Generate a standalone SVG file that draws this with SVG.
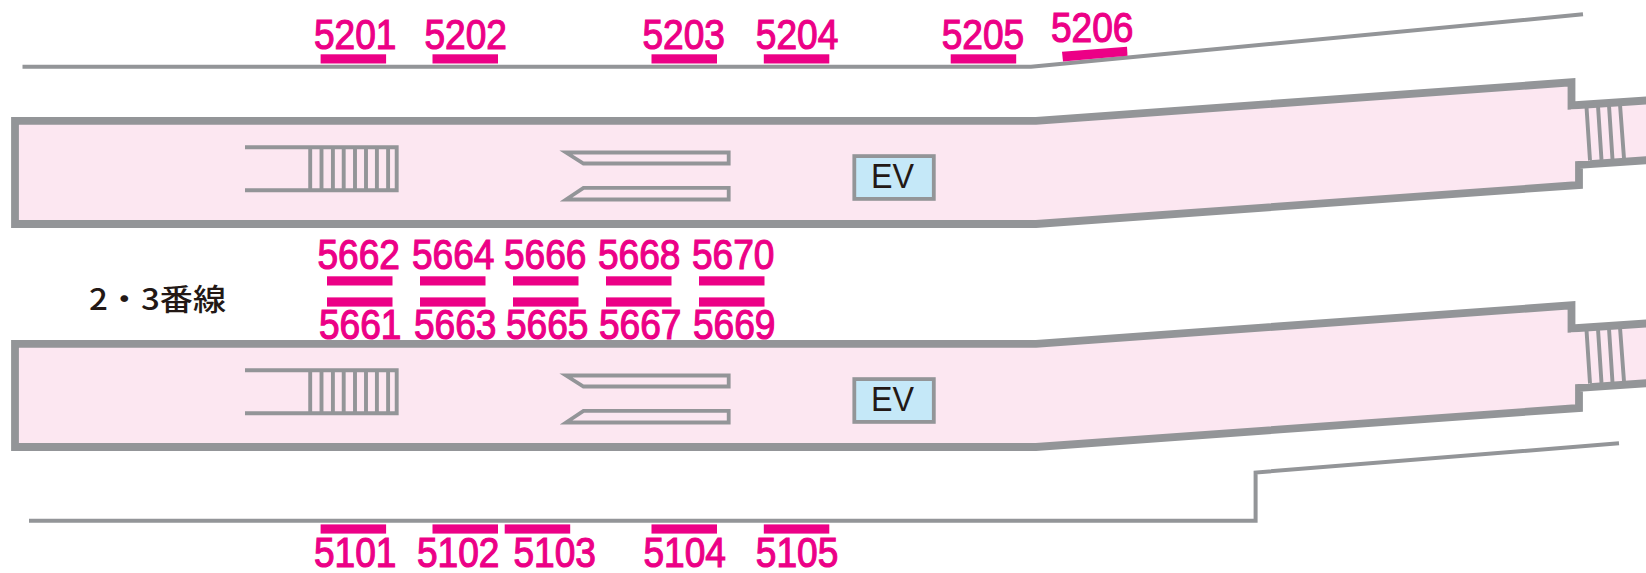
<svg xmlns="http://www.w3.org/2000/svg" width="1646" height="573" viewBox="0 0 1646 573">
<style>
.line{fill:none;stroke:#939598;stroke-width:4;stroke-linejoin:miter}
.wall{fill:#fce7f1;stroke:#939598;stroke-width:7.8;stroke-linejoin:miter}
.th{fill:none;stroke:#939598;stroke-width:3.9}
.esc{fill:#fce7f1;stroke:#939598;stroke-width:3.8;stroke-linejoin:miter}
.ev{fill:#c5e8f8;stroke:#939598;stroke-width:3.8}
.evt{font-family:"Liberation Sans",Arial,sans-serif;font-size:35px;fill:#231815}
.bar{fill:#ec0086}
.no{font-family:"Liberation Sans",Arial,sans-serif;font-size:42px;fill:#ec0086;stroke:#ec0086;stroke-width:1.2}
.cap{font-family:"Noto Sans CJK JP","Liberation Sans",sans-serif;font-size:29.5px;font-weight:500;fill:#231815}
</style>
<defs>
<g id="platform">
<path class="wall" d="M15 120.800L1036 120.800L1571.500 82.300V105.500L1650 100.200V160L1579 164.800V185L1036 224H15Z"/>
<path d="M1571 109.500H1590V161H1577Z" fill="#fce7f1"/>
<path class="th" d="M245 147.200H396.700V190.300H245M310.200 147.200V190.300M321.500 147.200V190.300M332.900 147.200V190.300M343.700 147.200V190.300M355 147.200V190.300M366 147.200V190.300M376.900 147.200V190.300M388.100 147.200V190.300"/>
<path class="th" d="M1586.500 107L1590 160.500M1598 106L1601.500 160M1609 105.500L1612.500 159.500M1620 104.500L1624 158.500"/>
<path class="esc" d="M566 152.500H728.700V163.500H583.500Z"/>
<path class="esc" d="M566 199.500H728.700V187.800H583.500Z"/>
<rect class="ev" x="854.300" y="156.100" width="79.500" height="42.800"/>
<text class="evt" x="871" y="188.300" textLength="43" lengthAdjust="spacingAndGlyphs">EV</text>
</g>
</defs>
<g id="connectors">
<path class="line" d="M22.500 66.700H1031L1583 14.300"/>
<path class="line" d="M29 520.700H1255.600V472.500L1619 443.300"/>
</g>
<g id="platform-upper"><use href="#platform"/></g>
<g id="platform-lower"><use href="#platform" transform="translate(0 223)"/></g>
<g id="label-line"><text class="cap" x="89" y="310" textLength="137" lengthAdjust="spacingAndGlyphs">2・3番線</text></g>
<g id="n5201"><rect class="bar" x="320.600" y="54.300" width="65.500" height="9.200"/><text class="no" x="314" y="49" textLength="82.500" lengthAdjust="spacingAndGlyphs">5201</text></g>
<g id="n5202"><rect class="bar" x="432.500" y="54.300" width="65.500" height="9.200"/><text class="no" x="424.500" y="49" textLength="82.500" lengthAdjust="spacingAndGlyphs">5202</text></g>
<g id="n5203"><rect class="bar" x="651.500" y="54.300" width="65.500" height="9.200"/><text class="no" x="642.500" y="49" textLength="82.500" lengthAdjust="spacingAndGlyphs">5203</text></g>
<g id="n5204"><rect class="bar" x="763.800" y="54.300" width="65.500" height="9.200"/><text class="no" x="755.800" y="49" textLength="82.500" lengthAdjust="spacingAndGlyphs">5204</text></g>
<g id="n5205"><rect class="bar" x="950.700" y="54.300" width="65.500" height="9.200"/><text class="no" x="941.700" y="49" textLength="82.500" lengthAdjust="spacingAndGlyphs">5205</text></g>
<g id="n5206"><polygon class="bar" points="1062,51.700 1127,46.700 1127.500,55.800 1063,61.500"/><text class="no" x="1051" y="41.500" textLength="82.500" lengthAdjust="spacingAndGlyphs">5206</text></g>
<g id="n5662"><rect class="bar" x="327" y="276.300" width="65.500" height="9.200"/><text class="no" x="317.500" y="268.500" textLength="82.500" lengthAdjust="spacingAndGlyphs">5662</text></g>
<g id="n5664"><rect class="bar" x="420" y="276.300" width="65.500" height="9.200"/><text class="no" x="412" y="268.500" textLength="82.500" lengthAdjust="spacingAndGlyphs">5664</text></g>
<g id="n5666"><rect class="bar" x="513" y="276.300" width="65.500" height="9.200"/><text class="no" x="504" y="268.500" textLength="82.500" lengthAdjust="spacingAndGlyphs">5666</text></g>
<g id="n5668"><rect class="bar" x="606" y="276.300" width="65.500" height="9.200"/><text class="no" x="598" y="268.500" textLength="82.500" lengthAdjust="spacingAndGlyphs">5668</text></g>
<g id="n5670"><rect class="bar" x="699" y="276.300" width="65.500" height="9.200"/><text class="no" x="692" y="268.500" textLength="82.500" lengthAdjust="spacingAndGlyphs">5670</text></g>
<g id="n5661"><rect class="bar" x="327" y="297.400" width="65.500" height="9.200"/><text class="no" x="319" y="339" textLength="82.500" lengthAdjust="spacingAndGlyphs">5661</text></g>
<g id="n5663"><rect class="bar" x="420" y="297.400" width="65.500" height="9.200"/><text class="no" x="414" y="339" textLength="82.500" lengthAdjust="spacingAndGlyphs">5663</text></g>
<g id="n5665"><rect class="bar" x="513" y="297.400" width="65.500" height="9.200"/><text class="no" x="506" y="339" textLength="82.500" lengthAdjust="spacingAndGlyphs">5665</text></g>
<g id="n5667"><rect class="bar" x="606" y="297.400" width="65.500" height="9.200"/><text class="no" x="599" y="339" textLength="82.500" lengthAdjust="spacingAndGlyphs">5667</text></g>
<g id="n5669"><rect class="bar" x="699" y="297.400" width="65.500" height="9.200"/><text class="no" x="693" y="339" textLength="82.500" lengthAdjust="spacingAndGlyphs">5669</text></g>
<g id="n5101"><rect class="bar" x="320.600" y="524.400" width="65.500" height="9.200"/><text class="no" x="314" y="566.500" textLength="82.500" lengthAdjust="spacingAndGlyphs">5101</text></g>
<g id="n5102"><rect class="bar" x="432.500" y="524.400" width="65.500" height="9.200"/><text class="no" x="417" y="566.500" textLength="82.500" lengthAdjust="spacingAndGlyphs">5102</text></g>
<g id="n5103"><rect class="bar" x="504.700" y="524.400" width="65.500" height="9.200"/><text class="no" x="513.500" y="566.500" textLength="82.500" lengthAdjust="spacingAndGlyphs">5103</text></g>
<g id="n5104"><rect class="bar" x="651.500" y="524.400" width="65.500" height="9.200"/><text class="no" x="643.500" y="566.500" textLength="82.500" lengthAdjust="spacingAndGlyphs">5104</text></g>
<g id="n5105"><rect class="bar" x="763.800" y="524.400" width="65.500" height="9.200"/><text class="no" x="755.800" y="566.500" textLength="82.500" lengthAdjust="spacingAndGlyphs">5105</text></g>
</svg>
